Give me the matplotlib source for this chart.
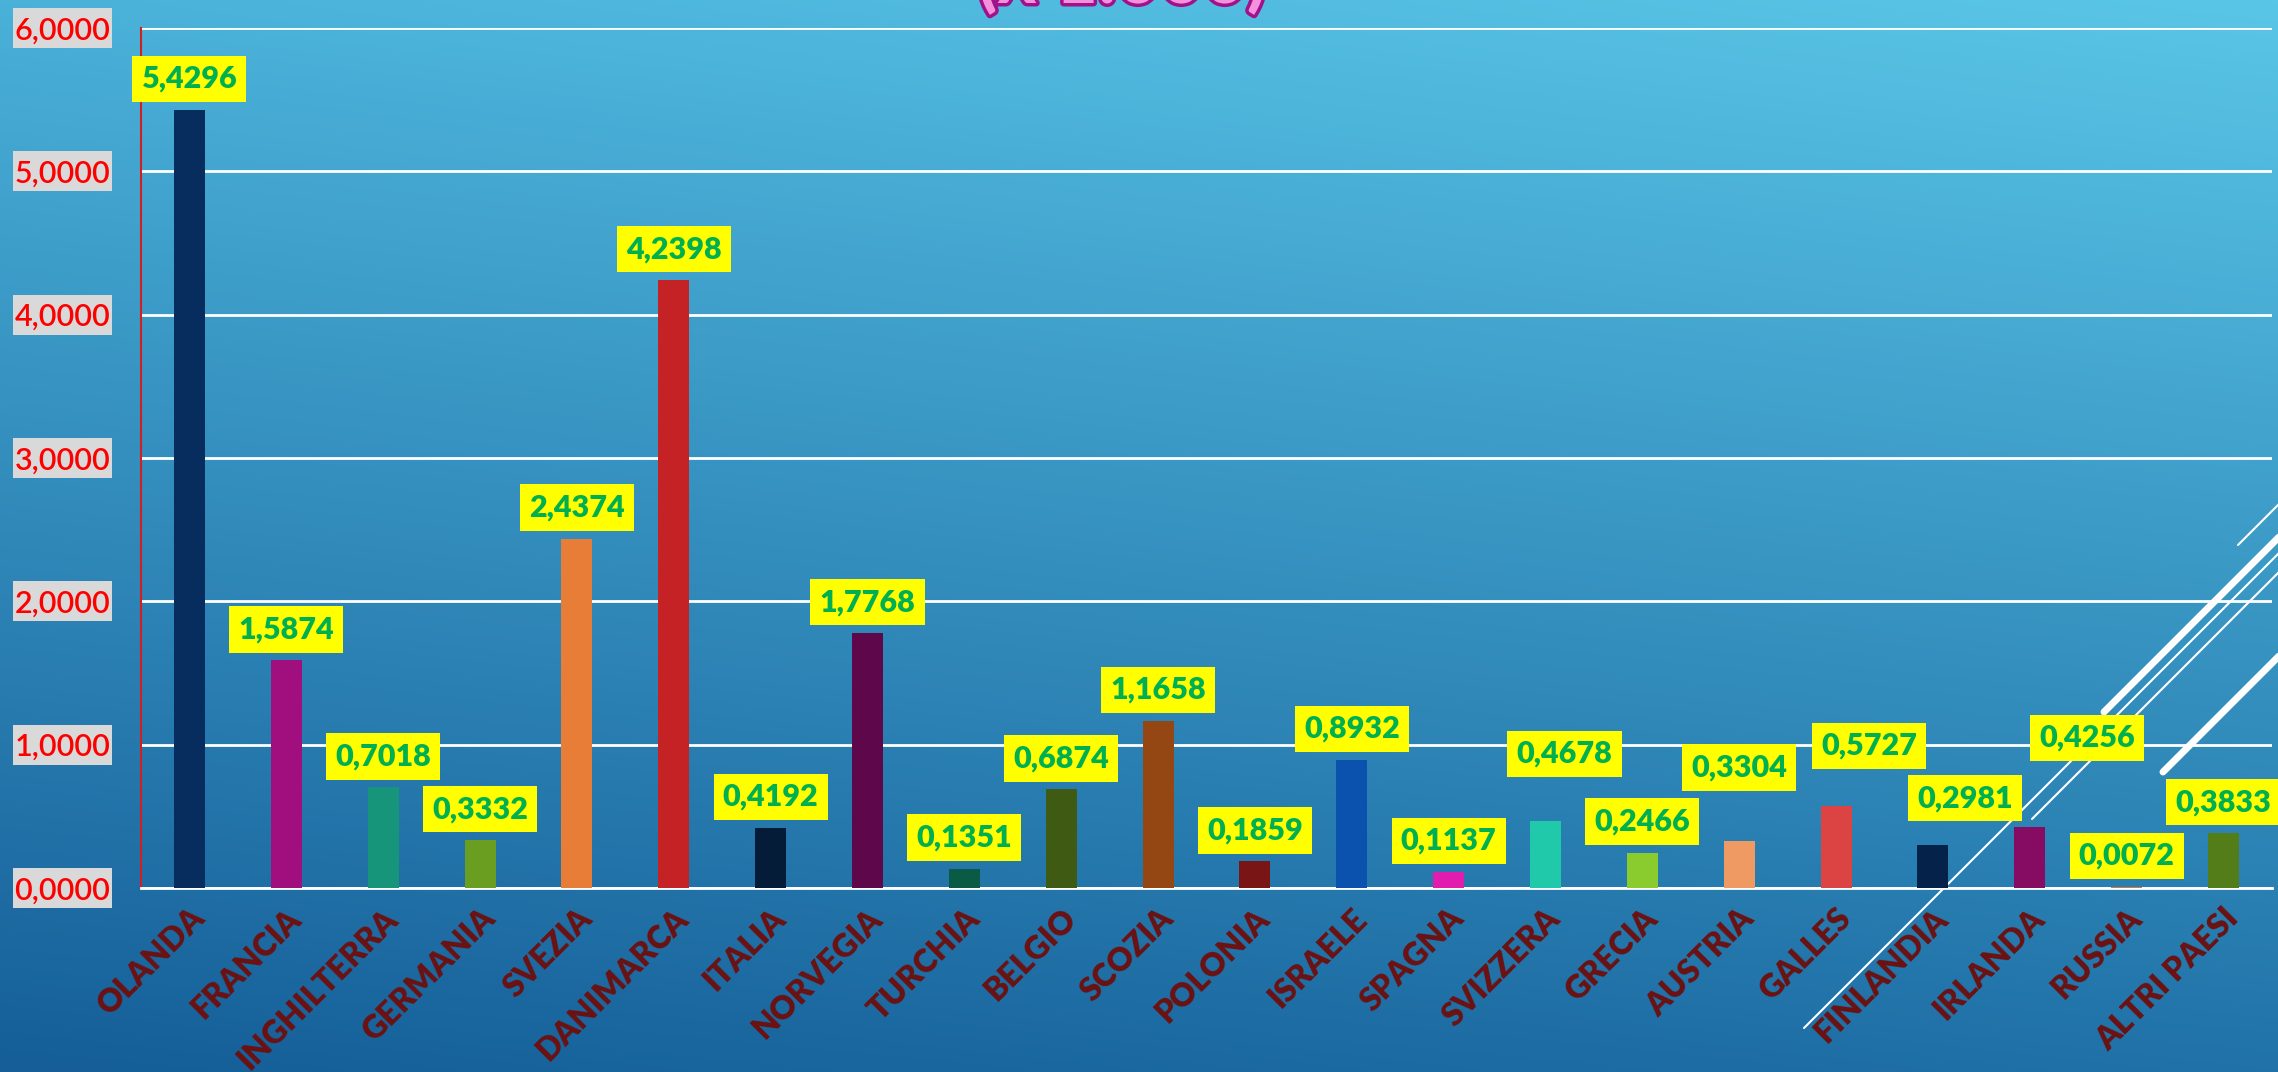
import numpy as np
import matplotlib
matplotlib.use("Agg")
import matplotlib.pyplot as plt
import matplotlib.patheffects as pe
from matplotlib.colors import to_rgb
from matplotlib.patches import Rectangle
from matplotlib.transforms import blended_transform_factory

# ---------------- data ----------------
countries = ["OLANDA", "FRANCIA", "INGHILTERRA", "GERMANIA", "SVEZIA", "DANIMARCA",
             "ITALIA", "NORVEGIA", "TURCHIA", "BELGIO", "SCOZIA", "POLONIA",
             "ISRAELE", "SPAGNA", "SVIZZERA", "GRECIA", "AUSTRIA", "GALLES",
             "FINLANDIA", "IRLANDA", "RUSSIA", "ALTRI PAESI"]
values = [5.4296, 1.5874, 0.7018, 0.3332, 2.4374, 4.2398,
          0.4192, 1.7768, 0.1351, 0.6874, 1.1658, 0.1859,
          0.8932, 0.1137, 0.4678, 0.2466, 0.3304, 0.5727,
          0.2981, 0.4256, 0.0072, 0.3833]
y_ticks = [0, 1, 2, 3, 4, 5, 6]
title_text = "(x 1.000)"

# ---------------- style ----------------
bar_colors = ["#072C5E", "#A10F7E", "#17957A", "#6A9E20", "#E87D38", "#C42224",
              "#041C38", "#5E074B", "#0B5A46", "#3F5A12", "#944713", "#7A1515",
              "#0A52AE", "#E11DB0", "#20C9AA", "#8ACB2D", "#EE9A62", "#DC4444",
              "#05224A", "#850C62", "#D97A2F", "#537D19"]
# manual label displacements (pixels: right, up) as in the reference
label_shift_px = {14: (19, 36), 16: (0, 42), 17: (33, 29), 18: (32, 16),
                  19: (57, 58)}

W, H = 2278, 1072
fig = plt.figure(figsize=(W / 100, H / 100), dpi=100)

# background gradient
bg = fig.add_axes([0, 0, 1, 1])
bg.set_xlim(0, W)
bg.set_ylim(H, 0)
bg.axis("off")
tl, tr = np.array(to_rgb("#4AB1D9")), np.array(to_rgb("#5AC6E7"))
bl, br = np.array(to_rgb("#155E98")), np.array(to_rgb("#2072A8"))
gy, gx = np.mgrid[0:1:200j, 0:1:400j]
img = ((1 - gy)[..., None] * ((1 - gx)[..., None] * tl + gx[..., None] * tr)
       + gy[..., None] * ((1 - gx)[..., None] * bl + gx[..., None] * br))
bg.imshow(img, extent=(0, W, H, 0), aspect="auto", interpolation="bilinear")

# decorative diagonal lines (x + y = c in pixel space)
deco = [(2783, 2238, 1.5), (2816, 2104, 5.0), (2832, 1804, 1.5),
        (2851, 2032, 1.5), (2935, 2163, 5.0)]
for c, x0, lw in deco:
    xs = np.array([x0, W + 30])
    bg.plot(xs, c - xs, color="white", lw=lw, solid_capstyle="round")

# title fragment at the very top
fig.text(1122 / W, 1 - 3 / H, title_text, ha="center", va="baseline",
         fontsize=54, fontweight="bold", family="Lato", color="#F590DC",
         path_effects=[pe.withStroke(linewidth=5, foreground="#A0128A")])

# main axes
ax = fig.add_axes([141 / W, 1 - 888 / H, (2272 - 141) / W, (888 - 28) / H])
ax.patch.set_alpha(0)
x = np.arange(len(countries))
ax.bar(x, values, width=0.32, color=bar_colors, zorder=3)
ax.set_xlim(-0.5, len(countries) - 0.5)
ax.set_ylim(0, 6)

ax.set_yticks(y_ticks)
ax.set_yticklabels([f"{v:.4f}".replace(".", ",") for v in y_ticks],
                   color="#FF0000", fontsize=22, family="Lato", fontweight="semibold")
ax.tick_params(axis="y", length=0, pad=22)
ax.yaxis.grid(True, color="white", lw=2)
ax.set_axisbelow(True)

# grey boxes behind y tick labels
box_tr = blended_transform_factory(fig.transFigure, ax.transData)
box_h = 40 / 143.33
for v in y_ticks:
    ax.add_patch(Rectangle((13 / W, v - box_h / 2), 99 / W, box_h, transform=box_tr,
                           fc="#D9D9D9", ec="none", clip_on=False, zorder=0))

ax.set_xticks(x)
ax.set_xticklabels(countries, rotation=45, ha="right", va="top",
                   rotation_mode="anchor", fontsize=23, fontweight="heavy",
                   family="Lato", color="#6B1212")
ax.tick_params(axis="x", length=0, pad=11)

for s in ["top", "right"]:
    ax.spines[s].set_visible(False)
ax.spines["left"].set_color("#D02020")
ax.spines["left"].set_linewidth(1.5)
ax.spines["bottom"].set_color("white")
ax.spines["bottom"].set_linewidth(2)

for i, v in enumerate(values):
    dx, dy = label_shift_px.get(i, (0, 0))
    ax.annotate(f"{v:.4f}".replace(".", ","), xy=(i, v),
                xytext=(dx * 0.72, (17 + dy) * 0.72), textcoords="offset points",
                ha="center", va="bottom", fontsize=22, fontweight="heavy",
                family="Lato", color="#00B050", zorder=5, annotation_clip=False,
                bbox=dict(boxstyle="square,pad=0.3", fc="yellow", ec="none"))

fig.savefig("out.png", dpi=100)
